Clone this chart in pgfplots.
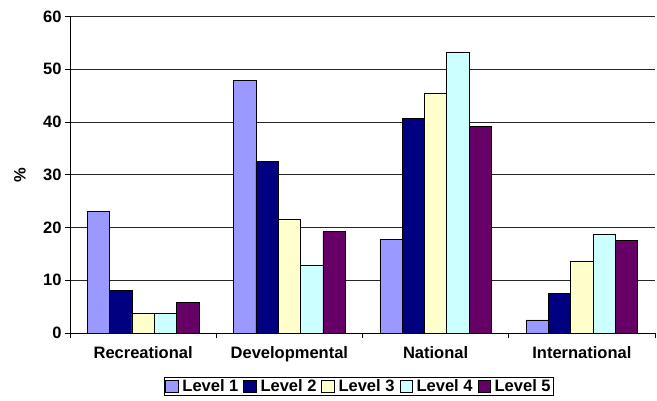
\documentclass[border=0pt]{standalone}
\usepackage{pgfplots}
\pgfplotsset{compat=1.18}
\usepackage{fontspec}
\setmainfont{Liberation Sans}
\definecolor{c1}{HTML}{9999FF}
\definecolor{c2}{HTML}{000080}
\definecolor{c3}{HTML}{FFFFCC}
\definecolor{c4}{HTML}{CCFFFF}
\definecolor{c5}{HTML}{660066}
\begin{document}
\begin{tikzpicture}
\path (-70pt,-68pt) rectangle (587pt,333pt);
\begin{axis}[
  at={(0pt,0pt)}, anchor=south west,
  scale only axis, width=585pt, height=316.5pt,
  ybar=0pt, bar width=22.3pt,
  xmin=-0.5, xmax=3.5, ymin=0, ymax=60,
  axis x line*=bottom, axis y line*=left,
  axis line style={black, line width=0.8pt, -},
  xtick={0,1,2,3},
  xticklabels={Recreational,Developmental,National,International},
  minor xtick={-0.5,0.5,1.5,2.5,3.5},
  ytick={0,10,...,60},
  ymajorgrids, major grid style={black!85, line width=0.7pt},
  tick align=outside,
  major tick length=5pt, minor tick length=5pt,
  x tick style={draw=none},
  minor x tick style={draw=black, line width=0.8pt},
  y tick style={black, line width=0.8pt},
  font=\fontsize{16.5}{19}\selectfont\bfseries,
  ticklabel style={font=\fontsize{16.5}{19}\selectfont\bfseries},
  /pgf/number format/assume math mode=true,
  xticklabel style={yshift=-5pt},
  ylabel={\%},
  ylabel style={at={(axis description cs:-0.0855,0.5)}, anchor=center},
  legend columns=5,
  legend style={at={(axis description cs:0.494,-0.138)}, anchor=north,
    draw=black, line width=0.8pt, font=\fontsize{16.5}{19}\selectfont\bfseries,
    inner xsep=1pt, inner ysep=0.5pt,
    /tikz/every odd column/.append style={column sep=2pt},
    /tikz/every even column/.append style={column sep=3pt}},
  legend image code/.code={\draw[#1, draw=black, line width=0.6pt] (0pt,-6pt) rectangle (12.5pt,6.5pt);},
  every axis plot/.append style={draw=black, line width=0.6pt},
]
\addplot[fill=c1] coordinates {(0,23.0) (1,47.9) (2,17.7) (3,2.5)};
\addplot[fill=c2] coordinates {(0,8.0) (1,32.5) (2,40.7) (3,7.5)};
\addplot[fill=c3] coordinates {(0,3.7) (1,21.5) (2,45.4) (3,13.5)};
\addplot[fill=c4] coordinates {(0,3.7) (1,12.9) (2,53.3) (3,18.8)};
\addplot[fill=c5] coordinates {(0,5.8) (1,19.2) (2,39.2) (3,17.5)};
\legend{Level 1,Level 2,Level 3,Level 4,Level 5}
\end{axis}
\end{tikzpicture}
\end{document}
